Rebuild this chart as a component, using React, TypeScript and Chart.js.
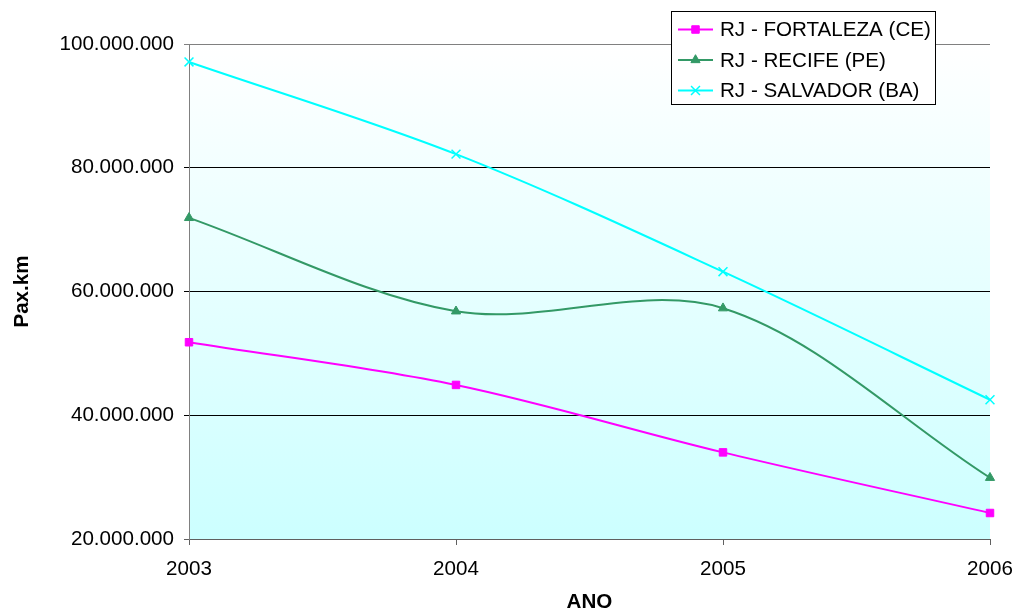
import React, { useEffect, useRef } from 'react';
import { Chart, registerables } from 'chart.js';
import { drawPoint } from 'chart.js/helpers';

Chart.register(...registerables);

// Passenger-kilometres per route, by year
const years = ['2003', '2004', '2005', '2006'];
const fortaleza = [51800000, 44900000, 34000000, 24200000];
const recife = [71900000, 56800000, 57300000, 29900000];
const salvador = [97100000, 82200000, 63200000, 42500000];
const seriesNames = ['RJ - FORTALEZA (CE)', 'RJ - RECIFE (PE)', 'RJ - SALVADOR (BA)'];
const yMin = 20000000;
const yMax = 100000000;
const yStep = 20000000;

const FONT = '"Liberation Sans", Arial, sans-serif';
const TEXT_SIZE = 20.6;

const formatThousands = (v: number) =>
  String(Math.round(v)).replace(/\B(?=(\d{3})+(?!\d))/g, '.');

// Plot-area fill: white at the top fading to pale cyan at the bottom
const plotBackground = {
  id: 'plotBackground',
  beforeDraw(chart: any) {
    const { ctx, chartArea } = chart;
    if (!chartArea) return;
    const g = ctx.createLinearGradient(0, chartArea.top, 0, chartArea.bottom);
    g.addColorStop(0, '#FFFFFF');
    g.addColorStop(1, '#CCFFFF');
    ctx.save();
    ctx.fillStyle = g;
    ctx.fillRect(chartArea.left, chartArea.top, chartArea.right - chartArea.left, chartArea.bottom - chartArea.top);
    ctx.restore();
  },
};

// Boxed legend in the top-right corner, overlapping the plot
const boxLegend = {
  id: 'boxLegend',
  afterDraw(chart: any) {
    const { ctx } = chart;
    const x0 = 671.5;
    const y0 = 11.5;
    const w = 264;
    const h = 93;
    ctx.save();
    ctx.fillStyle = '#FFFFFF';
    ctx.fillRect(x0, y0, w, h);
    ctx.strokeStyle = '#000000';
    ctx.lineWidth = 1;
    ctx.strokeRect(x0, y0, w, h);
    chart.data.datasets.forEach((ds: any, i: number) => {
      const cy = 29.5 + i * 30.5;
      ctx.strokeStyle = ds.borderColor;
      ctx.lineWidth = 2;
      ctx.beginPath();
      ctx.moveTo(678, cy);
      ctx.lineTo(713, cy);
      ctx.stroke();
      ctx.fillStyle = ds.pointBackgroundColor;
      ctx.strokeStyle = ds.pointBorderColor;
      ctx.lineWidth = ds.pointBorderWidth;
      drawPoint(ctx, { pointStyle: ds.pointStyle, radius: ds.pointRadius, rotation: 0, borderWidth: ds.pointBorderWidth }, 695.5, cy);
      ctx.fillStyle = '#000000';
      ctx.font = `${TEXT_SIZE}px ${FONT}`;
      ctx.textAlign = 'left';
      ctx.textBaseline = 'middle';
      ctx.fillText(ds.label, 720, cy + 1);
    });
    ctx.restore();
  },
};

export default function App() {
  const canvasRef = useRef<HTMLCanvasElement | null>(null);

  useEffect(() => {
    document.body.style.margin = '0';
    const canvas = canvasRef.current;
    if (!canvas) return;

    const chart = new Chart(canvas, {
      type: 'line',
      data: {
        labels: years,
        datasets: [
          {
            label: seriesNames[0],
            data: fortaleza,
            borderColor: '#FF00FF',
            backgroundColor: '#FF00FF',
            pointBackgroundColor: '#FF00FF',
            pointBorderColor: '#FF00FF',
            pointBorderWidth: 1,
            pointStyle: 'rect',
            pointRadius: 5.3,
            borderWidth: 2,
            tension: 0.33,
            clip: false,
          },
          {
            label: seriesNames[1],
            data: recife,
            borderColor: '#339966',
            backgroundColor: '#339966',
            pointBackgroundColor: '#339966',
            pointBorderColor: '#339966',
            pointBorderWidth: 1,
            pointStyle: 'triangle',
            pointRadius: 5.3,
            borderWidth: 2,
            tension: 0.33,
            clip: false,
          },
          {
            label: seriesNames[2],
            data: salvador,
            borderColor: '#00FFFF',
            backgroundColor: '#00FFFF',
            pointBackgroundColor: '#00FFFF',
            pointBorderColor: '#00FFFF',
            pointBorderWidth: 1.5,
            pointStyle: 'crossRot',
            pointRadius: 6.3,
            borderWidth: 2,
            tension: 0.33,
            clip: false,
          },
        ],
      },
      options: {
        responsive: false,
        animation: false,
        events: [],
        layout: { padding: { left: 0, right: 26, top: 44, bottom: 0 } },
        plugins: {
          legend: { display: false },
          tooltip: { enabled: false },
        },
        scales: {
          x: {
            type: 'category',
            offset: false,
            afterFit: (s: any) => {
              s.height = 74;
              s.paddingLeft = 0;
              s.paddingRight = 0;
            },
            grid: {
              drawOnChartArea: false,
              drawTicks: true,
              tickLength: 6,
              color: '#606060',
            },
            border: { color: '#606060', width: 1 },
            ticks: {
              color: '#000000',
              padding: 12,
              font: { family: FONT, size: TEXT_SIZE, lineHeight: 1.2 },
              maxRotation: 0,
              autoSkip: false,
            },
            title: {
              display: true,
              text: 'ANO',
              color: '#000000',
              padding: 0,
              font: { family: FONT, size: TEXT_SIZE, weight: 'bold', lineHeight: 1 },
            },
          },
          y: {
            min: yMin,
            max: yMax,
            afterFit: (s: any) => {
              s.width = 189;
              s.paddingTop = 0;
              s.paddingBottom = 0;
            },
            grid: {
              tickLength: 5,
              lineWidth: 1,
              color: (c: any) => {
                const v = c.tick ? c.tick.value : null;
                if (v === yMax) return '#808080';
                if (v === yMin) return '#606060';
                return '#000000';
              },
            },
            border: { color: '#808080', width: 1 },
            ticks: {
              stepSize: yStep,
              color: '#000000',
              padding: 10,
              font: { family: FONT, size: TEXT_SIZE },
              callback: (v: any) => formatThousands(Number(v)),
            },
            title: {
              display: true,
              text: 'Pax.km',
              color: '#000000',
              padding: { top: 10, bottom: 0 },
              font: { family: FONT, size: TEXT_SIZE, weight: 'bold', lineHeight: 1.2 },
            },
          },
        },
      },
      plugins: [plotBackground, boxLegend],
    } as any);

    return () => {
      chart.destroy();
    };
  }, []);

  return (
    <div style={{ position: 'absolute', left: 0, top: 0, width: 1016, height: 613, background: '#FFFFFF' }}>
      <canvas ref={canvasRef} width={1016} height={613} style={{ width: 1016, height: 613, display: 'block' }} />
    </div>
  );
}
